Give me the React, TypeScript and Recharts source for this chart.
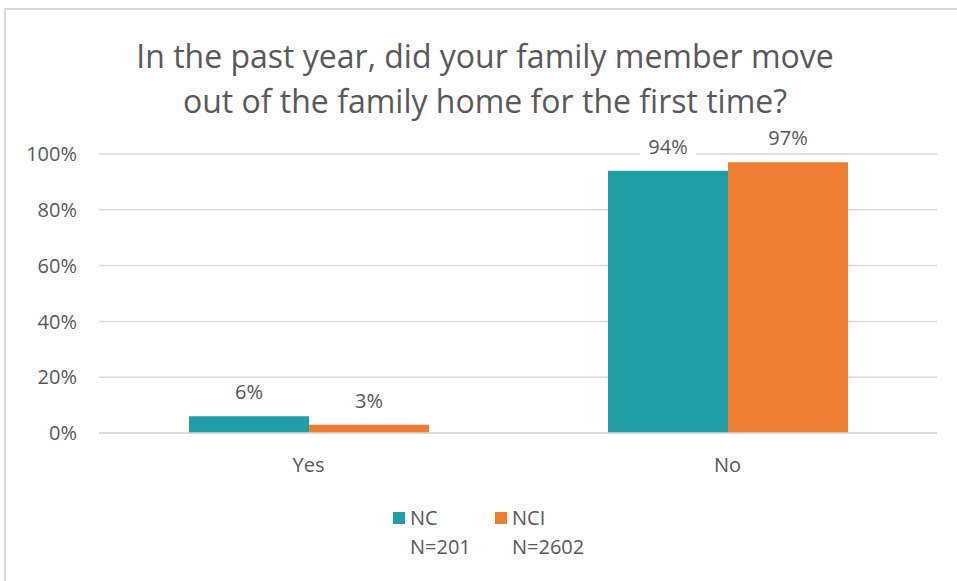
import React from 'react'
import { BarChart, Bar, XAxis, YAxis, CartesianGrid, LabelList, Legend } from 'recharts'

const categories = ['Yes', 'No']
const ncValues = [6, 94]
const nciValues = [3, 97]
const yTicks = [0, 20, 40, 60, 80, 100]
const seriesNames = ['NC', 'NCI']
const seriesNotes = ['N=201', 'N=2602']

const TEAL = '#219DA6'
const ORANGE = '#ED7D31'
const GRAY_TEXT = '#595959'
const GRID = '#D9D9D9'
const FONT = "'Open Sans', sans-serif"

const data = categories.map((c, i) => ({ name: c, nc: ncValues[i], nci: nciValues[i] }))

function ValueLabel(props: any) {
  const { x, y, width, value } = props
  const cx = x + width / 2
  const base = y - 17
  return (
    <g>
      <rect x={cx - 28} y={base - 20} width={56} height={26} fill="#fff" />
      <text x={cx} y={base} textAnchor="middle" fill={GRAY_TEXT} fontSize={20} fontFamily={FONT}>
        {value}%
      </text>
    </g>
  )
}

function LegendBox() {
  const colors = [TEAL, ORANGE]
  const lefts = [393, 495]
  return (
    <div style={{ position: 'relative', width: 957, height: 56, fontFamily: FONT, fontSize: 20, color: GRAY_TEXT }}>
      {seriesNames.map((n, i) => (
        <div key={n} style={{ position: 'absolute', left: lefts[i], top: 0 }}>
          <div style={{ position: 'absolute', left: 0, top: 9, width: 12, height: 12, background: colors[i] }} />
          <div style={{ position: 'absolute', left: 17, top: 0, lineHeight: '29px', whiteSpace: 'nowrap' }}>
            {n}
            <br />
            {seriesNotes[i]}
          </div>
        </div>
      ))}
    </div>
  )
}

export default function App() {
  return (
    <div style={{ position: 'absolute', left: 0, top: 0, width: 957, height: 581, background: '#fff', fontFamily: FONT, overflow: 'hidden' }}>
      <div style={{ position: 'absolute', left: 4, top: 8, width: 1000, height: 600, borderLeft: `2px solid ${GRID}`, borderTop: `2px solid ${GRID}` }} />
      <div style={{ position: 'absolute', left: 0, top: 33, width: 970, textAlign: 'center', fontSize: 32, lineHeight: '45px', color: GRAY_TEXT }}>
        In the past year, did your family member move
        <br />
        out of the family home for the first time?
      </div>
      <div style={{ position: 'absolute', left: 0, top: 0 }}>
        <BarChart width={957} height={581} data={data} margin={{ top: 154, right: 20, bottom: 52, left: 0 }} barGap={0}>
          <CartesianGrid vertical={false} stroke={GRID} strokeWidth={1.5} />
          <XAxis
            dataKey="name"
            axisLine={{ stroke: GRID, strokeWidth: 1.5 }}
            tickLine={false}
            height={40}
            tickMargin={19}
            tick={{ fill: GRAY_TEXT, fontSize: 20, fontFamily: FONT }}
          />
          <YAxis
            width={99}
            domain={[0, 100]}
            ticks={yTicks}
            axisLine={false}
            tickLine={false}
            tickSize={0}
            tickMargin={22}
            tickFormatter={(v: number) => `${v}%`}
            tick={{ fill: GRAY_TEXT, fontSize: 20, fontFamily: FONT }}
          />
          <Bar dataKey="nc" name={seriesNames[0]} fill={TEAL} barSize={120} isAnimationActive={false}>
            <LabelList dataKey="nc" content={ValueLabel} />
          </Bar>
          <Bar dataKey="nci" name={seriesNames[1]} fill={ORANGE} barSize={120} isAnimationActive={false}>
            <LabelList dataKey="nci" content={ValueLabel} />
          </Bar>
          <Legend verticalAlign="bottom" wrapperStyle={{ top: 503, left: 0, width: 957 }} content={() => <LegendBox />} />
        </BarChart>
      </div>
    </div>
  )
}
